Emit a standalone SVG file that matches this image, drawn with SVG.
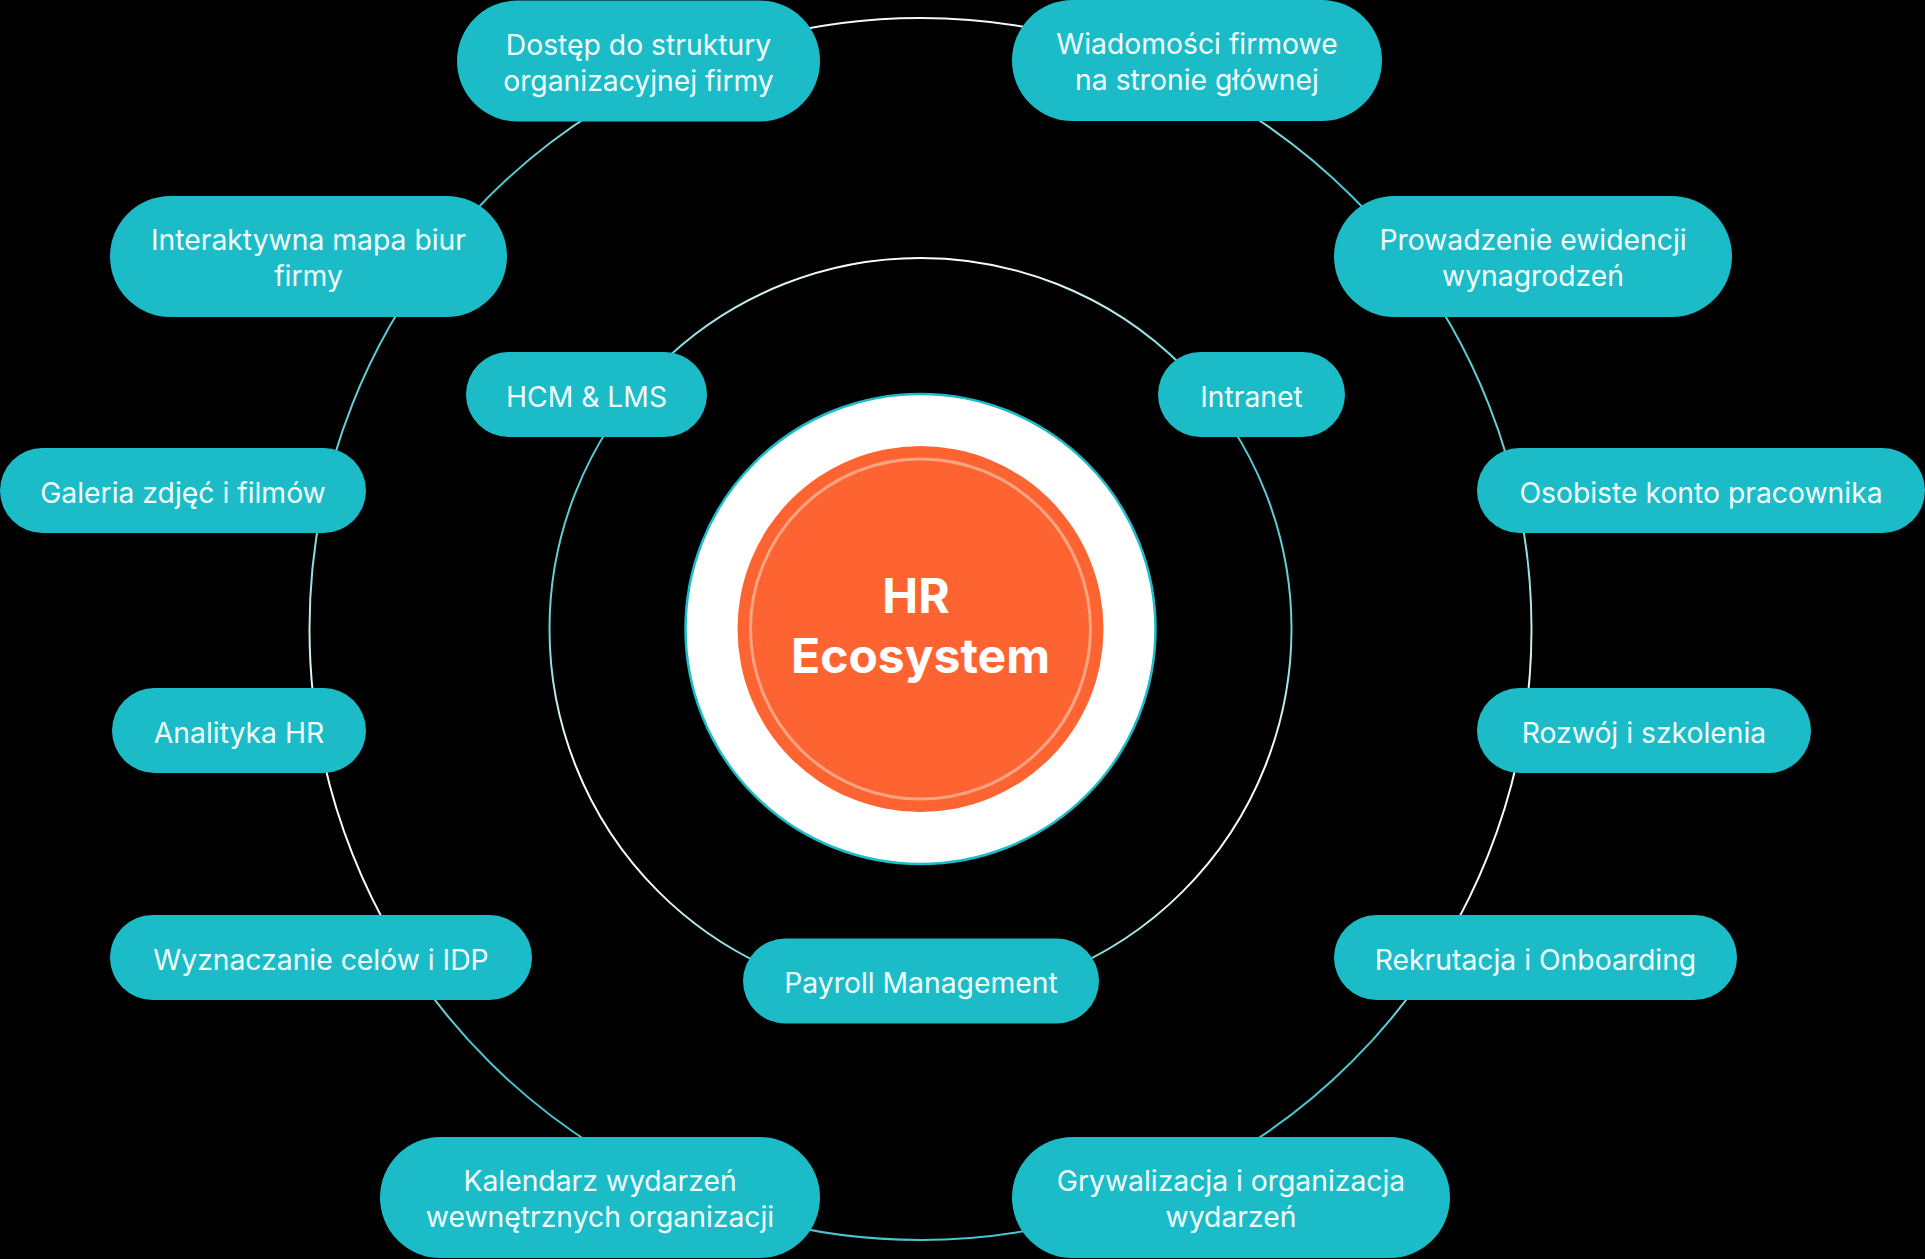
<svg xmlns="http://www.w3.org/2000/svg" width="1925" height="1259" viewBox="0 0 1925 1259">
<defs>
<linearGradient id="gOuter" gradientUnits="userSpaceOnUse" x1="0" y1="17" x2="0" y2="1240">
<stop offset="0" stop-color="#f2fbfc"/>
<stop offset="0.14" stop-color="#49c6cf"/>
<stop offset="0.4" stop-color="#6fd1d8"/>
<stop offset="0.58" stop-color="#ffffff"/>
<stop offset="0.72" stop-color="#eefafa"/>
<stop offset="0.84" stop-color="#49c6cf"/>
<stop offset="1" stop-color="#49c6cf"/>
</linearGradient>
<linearGradient id="gInner" gradientUnits="userSpaceOnUse" x1="0" y1="258" x2="0" y2="1000">
<stop offset="0" stop-color="#ffffff"/>
<stop offset="0.18" stop-color="#49c6cf"/>
<stop offset="0.5" stop-color="#6fd1d8"/>
<stop offset="0.68" stop-color="#ffffff"/>
<stop offset="0.85" stop-color="#eefafa"/>
<stop offset="1" stop-color="#49c6cf"/>
</linearGradient>
<style>
.pill{fill:#1bbcc8;}
.t{font-family:Inter,"Noto Sans","Liberation Sans",sans-serif;font-size:28.3px;fill:#f2fcfd;text-anchor:middle;}
.c{font-family:Inter,"Noto Sans","Liberation Sans",sans-serif;font-size:48px;font-weight:700;fill:#ffffff;text-anchor:middle;}
</style>
</defs>
<rect x="0" y="0" width="1925" height="1259" fill="#000000"/>
<g id="connectors" fill="none">
<circle cx="920.5" cy="629" r="611" stroke="url(#gOuter)" stroke-width="2"/>
<circle cx="920.5" cy="629" r="371" stroke="url(#gInner)" stroke-width="2"/>
</g>
<g id="center">
<circle cx="920.5" cy="629" r="235" fill="#ffffff" stroke="#1bbcc8" stroke-width="2.5"/>
<circle cx="920.5" cy="629" r="183" fill="#fe6432"/>
<circle cx="920.5" cy="629" r="170" fill="none" stroke="#f9a483" stroke-width="3"/>
<text class="c" x="916" y="613">HR</text>
<text class="c" x="920.5" y="673">Ecosystem</text>
</g>
<g id="n-dostep"><rect class="pill" x="457" y="0.5" width="363" height="121" rx="60.5"/><text class="t" x="638.5" y="55">Dostęp do struktury</text><text class="t" x="638.5" y="91">organizacyjnej firmy</text></g>
<g id="n-wiadomosci"><rect class="pill" x="1012" y="0" width="370" height="121" rx="60.5"/><text class="t" x="1197" y="54">Wiadomości firmowe</text><text class="t" x="1197" y="90">na stronie głównej</text></g>
<g id="n-mapa"><rect class="pill" x="110" y="196" width="397" height="121" rx="60.5"/><text class="t" x="308.5" y="250">Interaktywna mapa biur</text><text class="t" x="308.5" y="286">firmy</text></g>
<g id="n-prowadzenie"><rect class="pill" x="1334" y="196" width="398" height="121" rx="60.5"/><text class="t" x="1533" y="250">Prowadzenie ewidencji</text><text class="t" x="1533" y="286">wynagrodzeń</text></g>
<g id="n-hcm"><rect class="pill" x="466" y="352" width="241" height="85" rx="42.5"/><text class="t" x="586.5" y="406.5">HCM &amp; LMS</text></g>
<g id="n-intranet"><rect class="pill" x="1158" y="352" width="187" height="85" rx="42.5"/><text class="t" x="1251.5" y="406.5">Intranet</text></g>
<g id="n-galeria"><rect class="pill" x="0" y="448" width="366" height="85" rx="42.5"/><text class="t" x="183" y="502.5">Galeria zdjęć i filmów</text></g>
<g id="n-osobiste"><rect class="pill" x="1477" y="448" width="448" height="85" rx="42.5"/><text class="t" x="1701" y="502.5">Osobiste konto pracownika</text></g>
<g id="n-analityka"><rect class="pill" x="112" y="688" width="254" height="85" rx="42.5"/><text class="t" x="239" y="742.5">Analityka HR</text></g>
<g id="n-rozwoj"><rect class="pill" x="1477" y="688" width="334" height="85" rx="42.5"/><text class="t" x="1644" y="742.5">Rozwój i szkolenia</text></g>
<g id="n-wyznaczanie"><rect class="pill" x="110" y="915" width="422" height="85" rx="42.5"/><text class="t" x="321" y="969.5">Wyznaczanie celów i IDP</text></g>
<g id="n-rekrutacja"><rect class="pill" x="1334" y="915" width="403" height="85" rx="42.5"/><text class="t" x="1535.5" y="969.5">Rekrutacja i Onboarding</text></g>
<g id="n-payroll"><rect class="pill" x="743" y="938.5" width="356" height="85" rx="42.5"/><text class="t" x="921" y="993">Payroll Management</text></g>
<g id="n-kalendarz"><rect class="pill" x="380" y="1137" width="440" height="121" rx="60.5"/><text class="t" x="600" y="1191">Kalendarz wydarzeń</text><text class="t" x="600" y="1227">wewnętrznych organizacji</text></g>
<g id="n-grywalizacja"><rect class="pill" x="1012" y="1137" width="438" height="121" rx="60.5"/><text class="t" x="1231" y="1191">Grywalizacja i organizacja</text><text class="t" x="1231" y="1227">wydarzeń</text></g>
</svg>
